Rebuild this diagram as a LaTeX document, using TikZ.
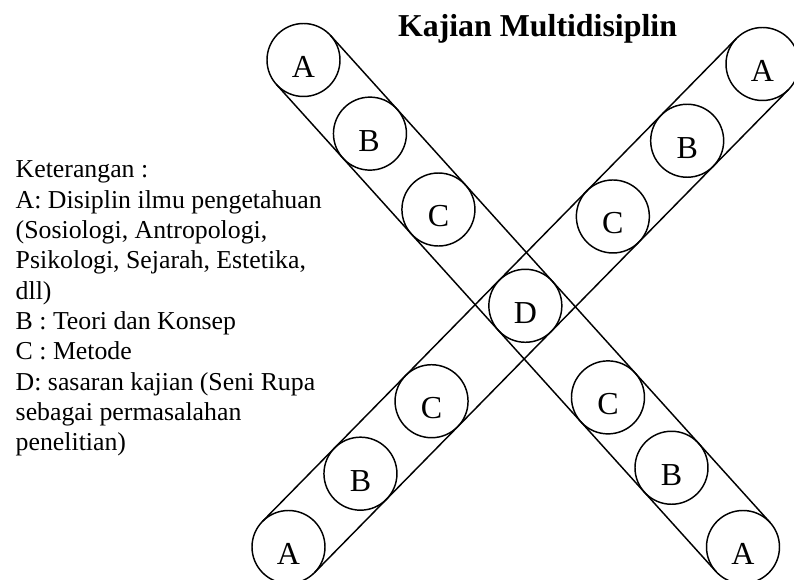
\documentclass[tikz,border=0pt]{standalone}
\usepackage{fontspec}
\setmainfont{Liberation Serif}
\usetikzlibrary{calc}
\begin{document}
\begin{tikzpicture}[x=0.75pt,y=-0.75pt,line width=1.1pt,
  circ/.style={circle,draw,minimum size=54.75pt,inner sep=0pt},
  lbl/.style={font=\fontsize{24}{28}\selectfont,inner sep=0pt},
  legend/.style={anchor=base west,inner sep=0pt,font=\fontsize{19.35}{23}\selectfont},
  titlestyle/.style={anchor=base,inner sep=0pt,font=\fontsize{23.9}{28}\selectfont\bfseries}]
\useasboundingbox (0,0) rectangle (794,580);
% band axes
\coordinate (p1) at (303.5,60);
\coordinate (p2) at (743,547);
\coordinate (q1) at (762.5,64);
\coordinate (q2) at (288.5,547);
\coordinate (dc) at (intersection of p1--p2 and q1--q2);
% band edges
\coordinate (e1a) at ($(p1)!27.375pt!90:(p2)$);
\coordinate (e1b) at ($(p2)!27.375pt!-90:(p1)$);
\coordinate (e2a) at ($(p1)!27.375pt!-90:(p2)$);
\coordinate (e2b) at ($(p2)!27.375pt!90:(p1)$);
\coordinate (f1a) at ($(q1)!27.375pt!90:(q2)$);
\coordinate (f1b) at ($(q2)!27.375pt!-90:(q1)$);
\coordinate (f2a) at ($(q1)!27.375pt!-90:(q2)$);
\coordinate (f2b) at ($(q2)!27.375pt!90:(q1)$);
\draw (e1a) -- (e1b);
\draw (e2a) -- (e2b);
\draw (f1a) -- (f1b);
\draw (f2a) -- (f2b);
% circles band 1
\node[circ] (a1) at (p1) {};
\node[circ] (b1) at ($(p1)!0.1512!(p2)$) {};
\node[circ] (c1) at ($(p1)!0.307!(p2)$) {};
\node[circ] (c2) at ($(p1)!0.6928!(p2)$) {};
\node[circ] (b2) at ($(p1)!0.8373!(p2)$) {};
\node[circ] (a2) at (p2) {};
% circles band 2
\node[circ] (a3) at (q1) {};
\node[circ] (b3) at ($(q1)!0.1589!(q2)$) {};
\node[circ] (c3) at ($(q1)!0.3157!(q2)$) {};
\node[circ] (c4) at ($(q1)!0.6982!(q2)$) {};
\node[circ] (b4) at ($(q1)!0.8482!(q2)$) {};
\node[circ] (a4) at (q2) {};
\node[circ] (d) at (dc) {};
% letters
\node[lbl] (ta1) at ($(a1)+(0,7)$) {A};
\node[lbl] (tb1) at ($(b1)+(-1,7)$) {B};
\node[lbl] (tc1) at ($(c1)+(0,7)$) {C};
\node[lbl] (tc2) at ($(c2)+(0,7)$) {C};
\node[lbl] (tb2) at ($(b2)+(0,7)$) {B};
\node[lbl] (ta2) at ($(a2)+(0,7)$) {A};
\node[lbl] (ta3) at ($(a3)+(0,7)$) {A};
\node[lbl] (tb3) at ($(b3)+(0,7)$) {B};
\node[lbl] (tc3) at ($(c3)+(0,7)$) {C};
\node[lbl] (tc4) at ($(c4)+(0,7)$) {C};
\node[lbl] (tb4) at ($(b4)+(0,7)$) {B};
\node[lbl] (ta4) at ($(a4)+(0,7)$) {A};
\node[lbl] (td) at ($(d)+(0,7)$) {D};
% title
\node[titlestyle] (title) at (537.5,37) {Kajian Multidisiplin};
% legend
\node[legend] (l1) at (15,178) {Keterangan :};
\node[legend] (l2) at (15,208.3) {A: Disiplin ilmu pengetahuan};
\node[legend] (l3) at (15,238.6) {(Sosiologi, Antropologi,};
\node[legend] (l4) at (15,268.9) {Psikologi, Sejarah, Estetika,};
\node[legend] (l5) at (15,299.2) {dll)};
\node[legend] (l6) at (15,329.5) {B : Teori dan Konsep};
\node[legend] (l7) at (15,359.8) {C : Metode};
\node[legend] (l8) at (15,390.1) {D: sasaran kajian (Seni Rupa};
\node[legend] (l9) at (15,420.4) {sebagai permasalahan};
\node[legend] (l10) at (15,450.7) {penelitian)};
\end{tikzpicture}
\end{document}
